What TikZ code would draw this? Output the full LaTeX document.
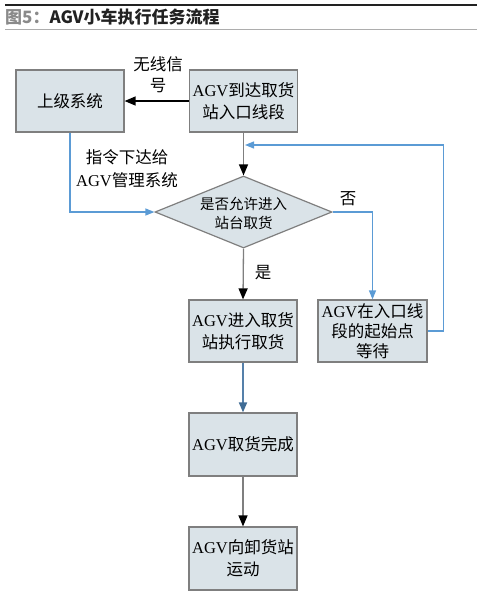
\documentclass[tikz,border=0pt]{standalone}
\usepackage{fontspec}
\setmainfont{Liberation Serif}
\newfontfamily\cjk{Noto Sans CJK SC}
\usetikzlibrary{shapes.geometric,arrows.meta}
\definecolor{boxfill}{HTML}{DAE3E8}
\definecolor{boxline}{HTML}{7F7F7F}
\definecolor{flowblue}{HTML}{5B9BD5}
\definecolor{steelline}{HTML}{5580AA}
\definecolor{titleink}{HTML}{222222}
\definecolor{titlegray}{HTML}{8A8A8A}
\newcommand\agv{{\rmfamily AGV}}

\begin{document}
\begin{tikzpicture}[x=1pt,y=-1pt,
  proc/.style={draw=boxline,fill=boxfill,line width=1.2pt,minimum width=108pt,
    minimum height=62pt,inner sep=0pt,align=center,font=\cjk\fontsize{16.5}{22}\selectfont},
  lbl/.style={align=center,inner sep=0pt,font=\cjk\fontsize{16.5}{21}\selectfont},
  darkflow/.style={draw=boxline,line width=1.3pt,-{Triangle[length=11pt,width=9pt,color=black]}},
  blueflow/.style={draw=flowblue,line width=1.2pt,-{Triangle[length=9pt,width=7pt]}},
  steelflow/.style={draw=steelline,line width=1.8pt,-{Triangle[length=10pt,width=8pt,color=flowblue!70!black]}}]
\useasboundingbox (0,0) rectangle (482,595);
% title
\draw[titleink,line width=1.5pt] (5,5) -- (477,5);
\draw[titlegray!70,line width=1pt] (5,29) -- (477,29);
\node[anchor=west,inner sep=0pt,font=\cjk\bfseries\fontsize{17}{20}\selectfont] (title) at (5,17)
  {\textcolor{titlegray}{图5：}\textcolor{titleink}{AGV小车执行任务流程}};
% boxes
\node[proc] (sys) at (70,101) {上级系统};
\node[proc] (arrive) at (243.5,101) {\agv 到达取货\\站入口线段};
\node[diamond,draw=boxline,fill=boxfill,line width=1.2pt,inner sep=0pt,
  minimum width=177pt,minimum height=72pt] (judge) at (243.5,212) {};
\node[align=center,inner sep=0pt,font=\cjk\fontsize{14.5}{19}\selectfont] (judgetext) at (243.5,213)
  {是否允许进入\\站台取货};
\node[proc] (enter) at (243,331) {\agv 进入取货\\站执行取货};
\node[proc,minimum width=109pt,font=\cjk\fontsize{16.5}{20}\selectfont] (wait) at (372.5,331)
  {\agv 在入口线\\段的起始点\\等待};
\node[proc,minimum height=63pt] (done) at (243,444.5) {\agv 取货完成};
\node[proc,minimum height=63pt] (move) at (243,558.5) {\agv 向卸货站\\运动};
% labels
\node[lbl] (wireless) at (158,75) {无线信\\号};
\node[lbl,font=\cjk\fontsize{16.5}{23}\selectfont] (order) at (127,169) {指令下达给\\\agv 管理系统};
\node[lbl] (no) at (348,199) {否};
\node[lbl] (yes) at (263,273) {是};
% connectors
\coordinate (loopin) at (245,145);
\draw[darkflow,draw=black] (arrive.west) -- (sys.east);
\draw[darkflow] (arrive.south) -- (judge.north);
\draw[blueflow] (sys.south) |- (judge.west);
\draw[blueflow] (judge.east) -| (wait.north);
\draw[blueflow] (wait.east) -- ++(16,0) |- (loopin);
\draw[darkflow] (judge.south) -- (enter.north);
\draw[steelflow] (enter.south) -- (done.north);
\draw[darkflow] (done.south) -- (move.north);
\end{tikzpicture}
\end{document}
